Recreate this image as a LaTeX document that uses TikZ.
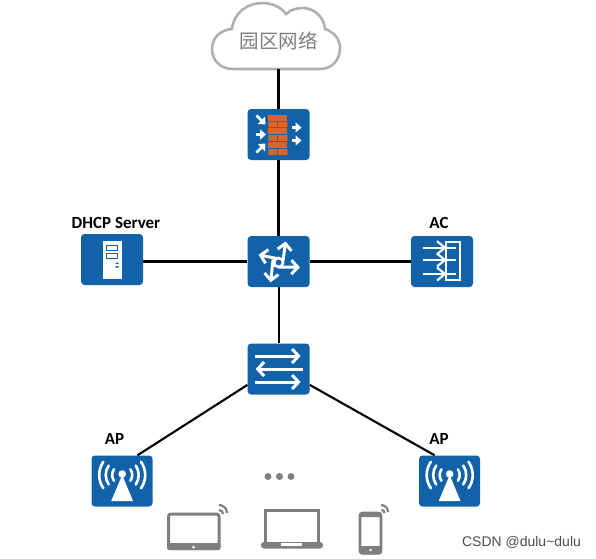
\documentclass[tikz,border=0pt]{standalone}
\usepackage{fontspec}
\setmainfont{Carlito}
\newfontfamily\cjk{Noto Sans CJK SC}
\newfontfamily\markfont{Liberation Sans}
\usetikzlibrary{arrows.meta}
\definecolor{boxblue}{HTML}{1162A8}
\definecolor{brick}{HTML}{DD6426}
\definecolor{devgray}{HTML}{7F7F7F}
\definecolor{cloudgray}{HTML}{B0B0B0}
\tikzset{
  netbox/.style={fill=boxblue,rounded corners=3.5pt,minimum width=62pt,minimum height=51pt,inner sep=0pt},
  link/.style={line width=2.1pt,black},
  whitearrow/.style={white,line width=3pt,-{Straight Barb[length=6.5pt,width=14pt,line width=3pt]}},
  smallarrow/.style={white,line width=2.6pt,-{Triangle[length=6pt,width=10pt]}},
  wave/.style={white,line width=2.6pt,line cap=round},
  devwave/.style={devgray,line width=2.2pt},
  boldlabel/.style={font=\bfseries\fontsize{17}{20}\selectfont,inner sep=0pt}
}
\begin{document}
\begin{tikzpicture}[x=1pt,y=-1pt]
  \useasboundingbox (0,0) rectangle (596,558);
  % --- Cloud ---
  \draw[cloudgray,line width=2.6pt,fill=white] (233,69)
    .. controls (220,69) and (212,60) .. (212,49)
    .. controls (212,38) and (220,30) .. (232,29)
    .. controls (234,12) and (248,3) .. (262,3)
    .. controls (272,3) and (281,7) .. (286,14)
    .. controls (291,9) and (298,8) .. (304,8)
    .. controls (315,9) and (324,17) .. (325,29)
    .. controls (334,32) and (340,39) .. (340,48)
    .. controls (340,60) and (332,69) .. (320,69)
    -- cycle;
  \node[minimum width=120pt,minimum height=56pt,inner sep=0pt,text=devgray,font=\cjk\fontsize{19.5}{22}\selectfont] (cloud) at (278.5,41) {园区网络};
  % --- Blue boxes ---
  \node[netbox] (firewall) at (278.5,134.5) {};
  \node[netbox] (router) at (278.6,261.5) {};
  \node[netbox] (switch) at (278.6,369) {};
  \node[netbox] (server) at (112,259.5) {};
  \node[netbox] (ac) at (442,261.5) {};
  \node[netbox,minimum width=61pt] (apleft) at (122,481) {};
  \node[netbox,minimum width=61pt] (apright) at (449.5,481) {};
  % --- Links ---
  \coordinate (serverright) at (server.east |- router.west);
  \draw[link] (cloud.south -| firewall.north) -- (firewall.north);
  \draw[link] (firewall.south) -- (router.north -| firewall.south);
  \draw[link] (router.west) -- (serverright);
  \draw[link] (router.east) -- (ac.west);
  \draw[link] (router.south) -- (switch.north);
  \draw[link] (switch.207) -- (apleft.59);
  \draw[link] (switch.-27) -- (apright.120);
  % --- Firewall icon ---
  \begin{scope}[shift={(firewall.center)}]
    \fill[brick] (-10.2,-19.5) rectangle (8.8,-14);
    \fill[brick] (-10.2,-13) rectangle (-1.3,-7.2) (-0.3,-13) rectangle (8.8,-7.2);
    \fill[brick] (-10.2,-6.2) rectangle (8.8,-0.5);
    \fill[brick] (-10.2,0.5) rectangle (-1.3,6.5) (-0.3,0.5) rectangle (8.8,6.5);
    \fill[brick] (-10.2,7.5) rectangle (8.8,13.5);
    \fill[brick] (-10.2,14.5) rectangle (-1.3,20.5) (-0.3,14.5) rectangle (8.8,20.5);
    \draw[smallarrow] (-22,-19) -- (-13,-10);
    \draw[smallarrow] (-23,0) -- (-12.5,0);
    \draw[smallarrow] (-22,18) -- (-13,9);
    \draw[smallarrow] (13,-7) -- (23,-7);
    \draw[smallarrow] (13,6) -- (23,6);
  \end{scope}
  % --- Router icon ---
  \begin{scope}[shift={(router.center)}]
    \draw[white,line width=2.6pt] (0,1) circle (4.5);
    \draw[whitearrow] (4.5,-1) -- (7,-20);
    \draw[whitearrow] (-2,-3) -- (-20,-6.8);
    \draw[whitearrow] (-5.5,-2) -- (-8,20.8);
    \draw[whitearrow] (0,5.5) -- (21.3,5.8);
  \end{scope}
  % --- Switch icon ---
  \begin{scope}[shift={(switch.center)}]
    \draw[whitearrow] (-24,-13) -- (22,-13);
    \draw[whitearrow] (24,0) -- (-23,0);
    \draw[whitearrow] (-24,13) -- (22,13);
  \end{scope}
  % --- Server icon ---
  \begin{scope}[shift={(server.center)}]
    \fill[white] (-9,-19) rectangle (9.5,19.5);
    \draw[boxblue,line width=1pt] (-5.5,-14) rectangle (5.5,-9.5);
    \draw[boxblue,line width=1pt] (-5.5,-6) rectangle (5.5,-1.5);
    \fill[boxblue] (3.5,3) rectangle (6.5,4.5) (3.5,6.5) rectangle (6.5,8);
  \end{scope}
  % --- AC icon ---
  \begin{scope}[shift={(ac.center)}]
    \draw[white,line width=2pt] (4,-19.5) rectangle (18,18);
    \foreach \y in {-13.8,-1.5,12.5}{
      \draw[white,line width=2.2pt] (-19.5,\y) -- (14,\y);
      \draw[white,line width=2.2pt] (-5,\y-6.5) -- (3,\y) -- (-5,\y+6.5);
    }
  \end{scope}
  % --- AP icons ---
  \foreach \ap in {apleft,apright}{
    \begin{scope}[shift={(\ap.center)}]
      \fill[white] (0.2,-6) -- (11,20) -- (-10.8,20) -- cycle;
      \fill[white] (0.2,-7) circle (3.8);
      \foreach \r in {10,16.5,23}{
        \draw[wave] (0.2,-6) ++(145:\r) arc (145:215:\r);
        \draw[wave] (0.2,-6) ++(-35:\r) arc (-35:35:\r);
      }
    \end{scope}
  }
  % --- Labels ---
  \node[boldlabel] (serverlabel) at (116,223) {DHCP Server};
  \node[boldlabel] (aclabel) at (439,223) {AC};
  \node[boldlabel] (apleftlabel) at (114.5,439) {AP};
  \node[boldlabel] (apriglabel) at (439,439) {AP};
  % --- Dots ---
  \foreach \x in {268,279.5,291}{
    \fill[devgray] (\x,476.5) circle (3.5);
  }
  % --- Tablet ---
  \draw[devgray,line width=3pt,rounded corners=2.5pt] (168.5,514) rectangle (219,548.5);
  \fill[devgray,rounded corners=2pt] (167,543) rectangle (220.5,550);
  \fill[white] (193.5,547) circle (1.5);
  \draw[devwave] (219,505) arc (-90:0:8);
  \draw[devwave] (219,510) arc (-90:0:4);
  % --- Laptop ---
  \draw[devgray,line width=2.8pt] (265.5,544) -- (265.5,510.5) -- (318.5,510.5) -- (318.5,544);
  \fill[devgray,rounded corners=3pt] (261,542) rectangle (323,548.5);
  \fill[white] (281,542.5) rectangle (302,546);
  % --- Phone ---
  \draw[devgray,line width=2.8pt,rounded corners=3pt] (360,513) rectangle (381,553);
  \fill[devgray,rounded corners=3pt] (358.8,546) rectangle (382.2,554.5);
  \fill[devgray,rounded corners=3pt] (358.8,512) rectangle (382.2,517);
  \fill[white] (370.5,550) circle (1.3);
  \draw[devwave] (381,505) arc (-90:0:7);
  \draw[devwave] (381.5,510) arc (-90:0:3);
  % --- Watermark ---
  \node[font=\markfont\fontsize{14}{16}\selectfont,text=black!70,inner sep=0pt] (watermark) at (521.5,542) {CSDN @dulu\textasciitilde dulu};
\end{tikzpicture}
\end{document}
